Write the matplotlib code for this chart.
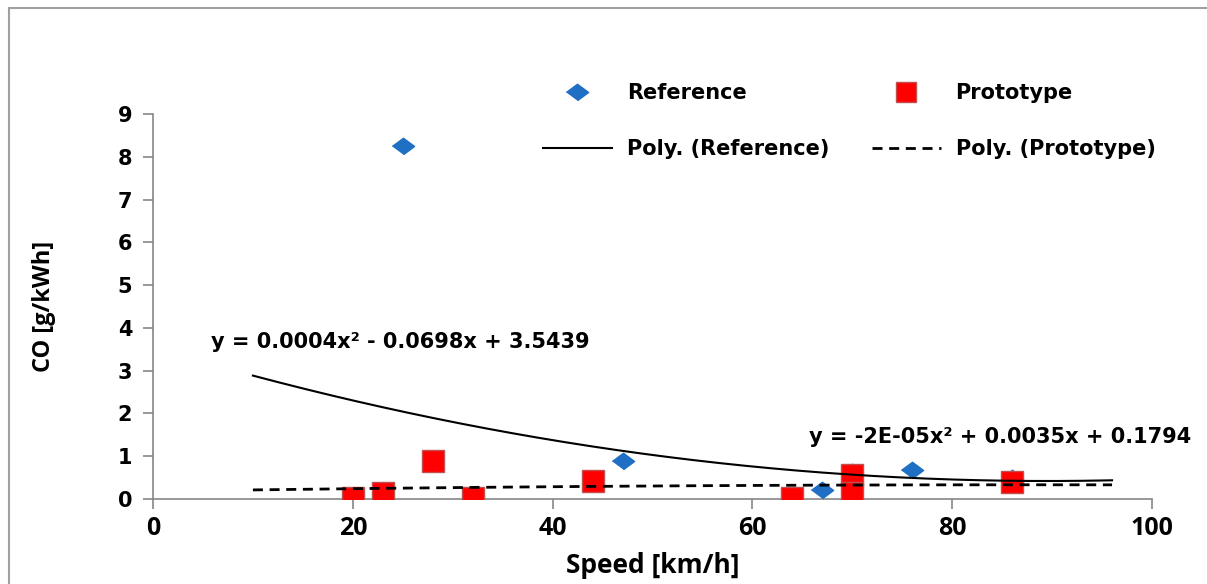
import numpy as np
import matplotlib
matplotlib.use("Agg")
import matplotlib.pyplot as plt
from matplotlib.patches import Rectangle
from matplotlib.lines import Line2D

# ---- data ----
ref_speed = [25, 47, 67, 76, 86, 32, 70, 86]
ref_co = [8.25, 0.90, 0.22, 0.68, 0.48, 0.06, 0.62, 0.40]
proto_speed = [20, 23, 28, 32, 44, 64, 70, 70, 86]
proto_co = [0.03, 0.13, 0.90, 0.03, 0.42, 0.02, 0.55, 0.15, 0.40]

# trendline coefficients (highest power first)
ref_coef = [0.00039, -0.0698, 3.5439]
proto_coef = [-2e-05, 0.0035, 0.1794]
trend_range = [10, 96]

ref_eq = "y = 0.0004x² - 0.0698x + 3.5439"
proto_eq = "y = -2E-05x² + 0.0035x + 0.1794"

x_ticks = [0, 20, 40, 60, 80, 100]
y_ticks = [0, 1, 2, 3, 4, 5, 6, 7, 8, 9]

W, H = 1207, 584
fig = plt.figure(figsize=(W / 100, H / 100), dpi=100)
ax = fig.add_axes([153 / W, 1 - 499 / H, (1152 - 153) / W, (499 - 114) / H])

blue = "#1F6FC5"
red = "#FF0000"
gray = "#868686"
diamond = [(-1.35, 0), (0, 1), (1.35, 0), (0, -1)]

ax.plot(ref_speed, ref_co, linestyle="none", marker=diamond, ms=16,
        color=blue, mec=blue, zorder=3)
ax.plot(proto_speed, proto_co, linestyle="none", marker="s", ms=15.5,
        color=red, mec="#C0504D", mew=1.0, zorder=4)

xs = np.linspace(trend_range[0], trend_range[1], 200)
ax.plot(xs, np.polyval(ref_coef, xs), color="black", lw=1.5, zorder=5)
ax.plot(xs, np.polyval(proto_coef, xs), color="black", lw=2,
        dashes=(3.6, 2.4), zorder=5)

ax.set_xlim(0, 100)
ax.set_ylim(0, 9)
ax.set_xticks(x_ticks)
ax.set_yticks(y_ticks)
for s in ["top", "right"]:
    ax.spines[s].set_visible(False)
for s in ["left", "bottom"]:
    ax.spines[s].set_color(gray)
    ax.spines[s].set_linewidth(1.2)
ax.tick_params(axis="both", direction="out", length=7, width=1.2, color=gray,
               pad=8)
for lab in ax.get_xticklabels():
    lab.set_fontweight("bold")
    lab.set_family("Open Sans")
    lab.set_fontsize(18)
for lab in ax.get_yticklabels():
    lab.set_fontweight("bold")
    lab.set_family("DejaVu Sans")
    lab.set_fontsize(15)
ax.tick_params(axis="x", pad=5)

ax.set_xlabel("Speed [km/h]", fontsize=19, fontweight="bold", family="Open Sans",
              labelpad=8)
ax.set_ylabel("CO [g/kWh]", fontsize=17, fontweight="bold", family="Open Sans",
              labelpad=44)

ax.text(5.8, 3.67, ref_eq, fontsize=15, fontweight="bold", family="DejaVu Sans",
        ha="left", va="center")
ax.text(65.7, 1.45, proto_eq, fontsize=15, fontweight="bold", family="DejaVu Sans",
        ha="left", va="center")

handles = [
    Line2D([], [], linestyle="none", marker=diamond, ms=16, color=blue),
    Line2D([], [], color="black", lw=1.5),
    Line2D([], [], linestyle="none", marker="s", ms=15, color=red, mec="#C0504D"),
    Line2D([], [], color="black", lw=2, dashes=(3.6, 2.4)),
]
labels = ["Reference", "Poly. (Reference)", "Prototype", "Poly. (Prototype)"]
fig.legend(handles, labels, ncol=2, loc="upper left",
           bbox_to_anchor=(543 / W, 1 - 83 / H), frameon=False,
           prop={"family": "DejaVu Sans", "weight": "bold", "size": 15},
           handlelength=3.3, handletextpad=0.72, columnspacing=2.05,
           labelspacing=1.74, borderpad=0, borderaxespad=0)

fig.patches.append(Rectangle((9 / W, -0.1), 1.2, 1 - 8 / H + 0.1,
                             transform=fig.transFigure, fill=False,
                             edgecolor="#A0A0A0", lw=1.5))

fig.savefig("out.png", dpi=100)
